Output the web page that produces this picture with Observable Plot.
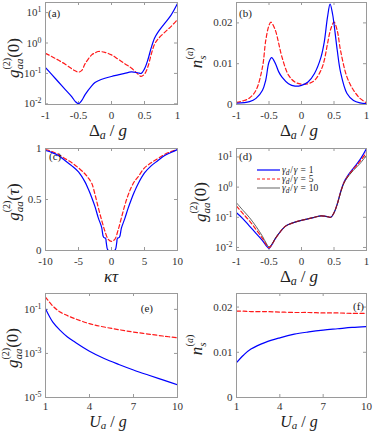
<!DOCTYPE html>
<html><head><meta charset="utf-8">
<script src="https://cdn.jsdelivr.net/npm/d3@7"></script>
<script src="https://cdn.jsdelivr.net/npm/@observablehq/plot@0.6"></script>
<style>
body{margin:0;background:#fff;}
#fig{position:relative;width:374px;height:432px;overflow:hidden;background:#fff;}
#fig svg{position:absolute;}
</style></head><body><div id="fig"></div>
<script>
// ---------- data ----------
// (a) g2(0) vs Delta_a/g
const aX    = [-1,-0.9,-0.8,-0.7,-0.6,-0.55,-0.5,-0.45,-0.4,-0.3,-0.25,-0.2,-0.1,0,0.1,0.2,0.3,0.4,0.45,0.5,0.55,0.6,0.65,0.7,0.8,0.9,1];
const aBlue = [0.155,0.089,0.0513,0.0295,0.017,0.012,0.0101,0.0129,0.02,0.0389,0.0501,0.0575,0.0692,0.0794,0.0891,0.1,0.112,0.105,0.1,0.141,0.275,0.676,1.41,2.19,4.27,8.13,19.9];
const aRed  = [0.457,0.355,0.269,0.2,0.141,0.122,0.11,0.126,0.209,0.407,0.47,0.525,0.49,0.407,0.295,0.209,0.151,0.0955,0.0794,0.0955,0.162,0.407,0.891,1.32,2.19,3.47,5.89];
// (b) n_s vs Delta_a/g
const bXBlue = [-1,-0.8,-0.7,-0.6,-0.55,-0.5,-0.46,-0.4,-0.35,-0.3,-0.2,-0.1,0,0.1,0.2,0.3,0.35,0.4,0.44,0.48,0.5,0.55,0.6,0.7,0.8,0.9,1];
const bBlue  = [0.0003,0.0007,0.0015,0.0035,0.006,0.0104,0.0115,0.010,0.008,0.0067,0.0051,0.0045,0.0047,0.0055,0.0076,0.0116,0.0153,0.0214,0.0246,0.022,0.0198,0.0133,0.008,0.0027,0.001,0.0004,0.0002];
const bXRed  = [-1,-0.9,-0.8,-0.7,-0.6,-0.55,-0.5,-0.47,-0.4,-0.35,-0.3,-0.2,-0.1,0,0.1,0.2,0.3,0.35,0.4,0.45,0.5,0.55,0.6,0.7,0.8,0.9,1];
const bRed   = [0.0005,0.0009,0.0016,0.0035,0.0092,0.0157,0.0194,0.0202,0.0181,0.0149,0.0116,0.0072,0.0055,0.005,0.0051,0.0059,0.0084,0.0108,0.0149,0.0185,0.0202,0.0181,0.0133,0.0067,0.0035,0.0015,0.0004];
// (c) g2(tau) vs kappa tau
const cXBlue = [-10,-9,-8,-7,-6,-5,-4,-3.5,-3,-2.5,-2,-1.5,-1.2,-0.9,-0.8,-0.6,-0.4,0,0.4,0.6,0.8,0.9,1.2,1.5,2,2.5,3,3.5,4,5,6,7,8,9,10];
const cBlue  = [0.98,0.96,0.93,0.88,0.83,0.77,0.67,0.6,0.52,0.43,0.32,0.23,0.13,0.12,0.08,0.01,0.0,0.0,0.0,0.01,0.08,0.12,0.13,0.22,0.31,0.41,0.5,0.58,0.65,0.76,0.83,0.88,0.93,0.96,0.99];
const cXRed  = [-10,-9,-8,-7,-6,-5,-4,-3.5,-3,-2.5,-2,-1.5,-1,-0.5,0,0.5,1,1.5,2,2.5,3,3.5,4,5,6,7,8,9,10];
const cRed   = [0.99,0.97,0.94,0.9,0.86,0.81,0.75,0.71,0.66,0.55,0.42,0.3,0.19,0.11,0.09,0.11,0.2,0.32,0.44,0.54,0.62,0.68,0.72,0.81,0.86,0.9,0.94,0.97,0.99];
// (d) g2(0) vs Delta_a/g for gamma_d/gamma = 1, 5, 10
const dX   = [-1,-0.9,-0.8,-0.7,-0.6,-0.55,-0.5,-0.45,-0.4,-0.3,-0.25,-0.2,-0.1,0,0.1,0.2,0.3,0.4,0.45,0.5,0.55,0.6,0.65,0.7,0.8,0.9,1];
const dG1  = [0.141,0.089,0.0513,0.0295,0.017,0.012,0.0093,0.0129,0.02,0.0389,0.0501,0.0575,0.0692,0.0794,0.0891,0.1,0.112,0.105,0.1,0.141,0.275,0.676,1.41,2.19,4.27,8.13,19];
const dG5  = [0.234,0.132,0.0759,0.0398,0.02,0.0132,0.0098,0.0132,0.02,0.0389,0.0501,0.0575,0.0692,0.0794,0.0891,0.1,0.112,0.105,0.1,0.141,0.275,0.66,1.35,2.09,3.98,7.08,14.1];
const dG10 = [0.302,0.17,0.0977,0.0501,0.0234,0.0148,0.0105,0.0135,0.0205,0.0389,0.0501,0.0575,0.0692,0.0794,0.0891,0.1,0.112,0.105,0.1,0.141,0.27,0.64,1.3,2.0,3.63,6.03,11.2];
const dLegend = ["1","5","10"];
// (e) g2(0) vs U_a/g
const eX    = [1,1.5,2,2.5,3,4,5,6,7,8,9,10];
const eBlue = [0.107,0.0263,0.0112,0.00562,0.00331,0.00126,0.000589,0.000316,0.000178,0.000105,0.0000631,0.000038];
const eRed  = [0.363,0.141,0.0759,0.052,0.038,0.0224,0.0158,0.012,0.00933,0.00759,0.00617,0.00513];
// (f) n_s vs U_a/g
const fX    = [1,1.5,2,3,4,5,6,7,8,9,10];
const fBlue = [0.0077,0.0094,0.0107,0.0122,0.0132,0.014,0.0145,0.0149,0.0152,0.0155,0.0157];
const fRed  = [0.0191,0.0191,0.019,0.019,0.0189,0.0188,0.0188,0.0187,0.0187,0.0186,0.0186];

// ticks
const dTicks = [-1,-0.5,0,0.5,1], dTickLabels = ["-1","-0.5","0","0.5","1"];
const logTicksA = [0.01,0.1,1,10], logLabelsA = ["10^-2","10^-1","10^0","10^1"];
const nTicks = [0,0.01,0.02], nLabels = ["0","0.01","0.02"];
const tTicks = [-10,-5,0,5,10], tLabels = ["-10","-5","0","5","10"];
const cYTicks = [0,0.5,1], cYLabels = ["0","0.5","1"];
const uTicks = [1,4,7,10], uLabels = ["1","4","7","10"];
const eYTicks = [1e-5,1e-3,1e-1], eYLabels = ["10^-5","10^-3","10^-1"];

// ---------- styling ----------
const SERIF = "'Liberation Serif','DejaVu Serif',serif";
const FRAME = "#9a9a9a";
const BLUE = "#0000ff", RED = "#ff1a1a";
const fig = d3.select("#fig");

function panel(o) {
  const iw = o.width - o.ml - o.mr, ih = o.height - o.mt - o.mb;
  const fmt = (ticks, labels) => d => labels[ticks.indexOf(d)];
  const svg = Plot.plot({
    width: o.width, height: o.height,
    marginLeft: o.ml, marginRight: o.mr, marginTop: o.mt, marginBottom: o.mb,
    x: {domain: o.xDomain},
    y: {domain: o.yDomain, type: o.yType || "linear"},
    style: {fontFamily: SERIF, fontSize: "11px", color: "#333", background: "transparent", overflow: "visible"},
    marks: [
      Plot.tickX(o.xTicks, {x: d => d, insetTop: ih - 3, stroke: FRAME}),
      Plot.tickX(o.xTicks, {x: d => d, insetBottom: ih - 3, stroke: FRAME}),
      Plot.tickY(o.yTicks, {y: d => d, insetRight: iw - 3, stroke: FRAME}),
      Plot.tickY(o.yTicks, {y: d => d, insetLeft: iw - 3, stroke: FRAME}),
      Plot.axisX({ticks: o.xTicks, tickSize: 0, tickPadding: o.xPad || 7, tickFormat: fmt(o.xTicks, o.xLabels), label: null}),
      Plot.axisY({ticks: o.yTicks, tickSize: 0, tickPadding: 4, tickFormat: fmt(o.yTicks, o.yLabels), label: null}),
      ...o.marks,
      Plot.frame({stroke: FRAME})
    ]
  });
  svg.style.left = o.left + "px";
  svg.style.top = o.top + "px";
  d3.select(svg).selectAll("text").each(function () {
    const t = this.textContent;
    if (t && t.includes("^")) {
      const [b, e] = t.split("^");
      const el = d3.select(this);
      el.text(null);
      el.append("tspan").text(b);
      el.append("tspan").attr("dy", "-0.5em").attr("font-size", "0.72em").text(e);
    }
  });
  fig.node().appendChild(svg);
  return svg;
}

const solid = (x, y, color, w) => Plot.line(y, {x, y: d => d, stroke: color, strokeWidth: w || 1.2, curve: "catmull-rom", clip: true});
const dashed = (x, y, color) => Plot.line(y, {x, y: d => d, stroke: color, strokeWidth: 1.2, strokeDasharray: "4,2.5", curve: "catmull-rom", clip: true});

const L = {left: 0, width: 187, ml: 45, mr: 10};
const R = {left: 187, width: 187, ml: 49, mr: 8};
const R1 = {top: 0, height: 144, mt: 2, mb: 40};
const R2 = {top: 144, height: 144, mt: 4, mb: 38};
const R3 = {top: 288, height: 144, mt: 5, mb: 35, xPad: 5};

// (a)
panel({...L, ...R1, xDomain: [-1, 1], yDomain: [0.0095, 21.5], yType: "log",
  xTicks: dTicks, xLabels: dTickLabels, yTicks: logTicksA, yLabels: logLabelsA,
  marks: [dashed(aX, aRed, RED), solid(aX, aBlue, BLUE)]});
// (b)
panel({...R, ...R1, xDomain: [-1, 1], yDomain: [0, 0.025],
  xTicks: dTicks, xLabels: dTickLabels, yTicks: nTicks, yLabels: nLabels,
  marks: [dashed(bXRed, bRed, RED), solid(bXBlue, bBlue, BLUE)]});
// (c)
panel({...L, ...R2, xDomain: [-10, 10], yDomain: [0, 1],
  xTicks: tTicks, xLabels: tLabels, yTicks: cYTicks, yLabels: cYLabels,
  marks: [dashed(cXRed, cRed, RED), solid(cXBlue, cBlue, BLUE)]});
// (d)
panel({...R, ...R2, xDomain: [-1, 1], yDomain: [Math.pow(10, -2.1), Math.pow(10, 1.28)], yType: "log",
  xTicks: dTicks, xLabels: dTickLabels, yTicks: logTicksA, yLabels: logLabelsA,
  marks: [solid(dX, dG1, BLUE), dashed(dX, dG5, RED), solid(dX, dG10, "#222", 0.7)]});
// (e)
panel({...L, ...R3, xDomain: [1, 10], yDomain: [1e-5, 0.525], yType: "log",
  xTicks: uTicks, xLabels: uLabels, yTicks: eYTicks, yLabels: eYLabels,
  marks: [dashed(eX, eRed, RED), solid(eX, eBlue, BLUE)]});
// (f)
panel({...R, ...R3, xDomain: [1, 10], yDomain: [0, 0.023],
  xTicks: uTicks, xLabels: uLabels, yTicks: nTicks, yLabels: nLabels,
  marks: [dashed(fX, fRed, RED), solid(fX, fBlue, BLUE)]});

// ---------- overlay text ----------
const ov = fig.append("svg").attr("width", 374).attr("height", 432)
  .style("left", "0px").style("top", "0px")
  .attr("font-family", SERIF).attr("fill", "#222");

function rich(x, y, parts, {rot = 0, anchor = "middle", size = 17} = {}) {
  const t = ov.append("text").attr("text-anchor", anchor).attr("font-size", size)
    .attr("transform", `translate(${x},${y}) rotate(${rot})`);
  for (const p of parts) {
    const s = t.append("tspan").text(p.t);
    if (p.i) s.attr("font-style", "italic");
    if (p.s) s.attr("font-size", p.s);
    if (p.dx) s.attr("dx", p.dx);
    if (p.dy) s.attr("dy", p.dy);
  }
  return t;
}
const g2 = (arg, argItalic) => [
  {t: "g", i: 1},
  {t: "aa", i: 1, s: 11, dy: 4},
  {t: "(2)", s: 10, dx: -11, dy: -13},
  {t: "(", dy: 9}, {t: arg, i: argItalic}, {t: ")"}
];
const ns = [{t: "n", i: 1}, {t: "s", i: 1, s: 11, dy: 4}, {t: "(", s: 10, dx: -4, dy: -13}, {t: "a", i: 1, s: 10}, {t: ")", s: 10}];
const delta = [{t: "Δ"}, {t: "a", i: 1, s: 12, dy: 3}, {t: "/", dx: 4, dy: -3}, {t: "g", i: 1, dx: 4}];
const ua = [{t: "U", i: 1}, {t: "a", i: 1, s: 11, dy: 2.5}, {t: "/", dx: 4, dy: -2.5}, {t: "g", i: 1, dx: 4}];

// y labels
rich(19, 58, g2("0"), {rot: -90});
rich(202, 58, ns, {rot: -90});
rich(19, 202, g2("τ", 1), {rot: -90});
rich(206, 202, g2("0"), {rot: -90});
rich(18, 348, g2("0"), {rot: -90});
rich(202, 345, ns, {rot: -90});
// x labels
rich(108, 136, delta);
rich(299, 136, delta);
rich(111, 282, [{t: "κτ", i: 1}]);
rich(299, 282, delta);
rich(108, 426.5, ua, {size: 16});
rich(299, 426.5, ua, {size: 16});
// panel letters
const letters = [["(a)", 48, 16.5, "start"], ["(b)", 239, 16.5, "start"], ["(c)", 49, 160, "start"],
                 ["(d)", 239, 159.5, "start"], ["(e)", 153, 311.5, "end"], ["(f)", 364, 309.5, "end"]];
for (const [t, x, y, a] of letters)
  ov.append("text").attr("x", x).attr("y", y).attr("text-anchor", a).attr("font-size", 11).text(t);

// legend in (d)
const legStyles = [{c: BLUE, w: 1.2, dash: null}, {c: RED, w: 1.2, dash: "3,2"}, {c: "#222", w: 0.7, dash: null}];
dLegend.forEach((v, i) => {
  const y = 170 + i * 9;
  const st = legStyles[i];
  ov.append("line").attr("x1", 257).attr("x2", 280).attr("y1", y).attr("y2", y)
    .attr("stroke", st.c).attr("stroke-width", st.w).attr("stroke-dasharray", st.dash);
  rich(282, y + 3, [{t: "γ", i: 1}, {t: "d", i: 1, s: 7.5, dy: 1.5}, {t: "/", dy: -1.5, dx: 0.8},
                    {t: "γ", i: 1, dx: 0.8}, {t: "=", dx: 3}, {t: v, dx: 3}],
    {anchor: "start", size: 9.5});
});
</script></body></html>
